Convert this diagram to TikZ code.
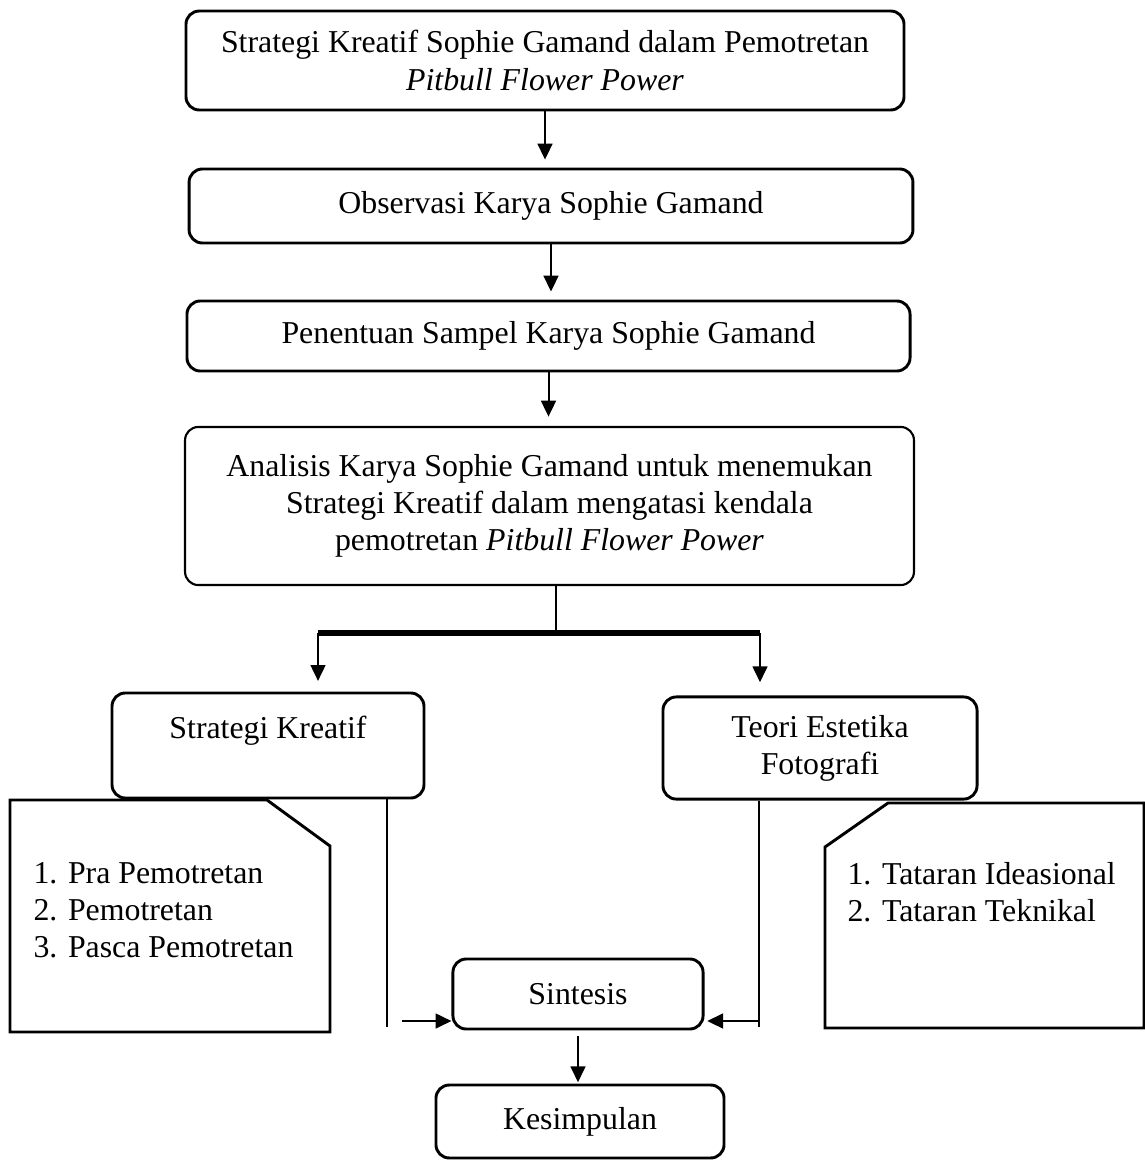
\documentclass[tikz,border=0pt]{standalone}
\usepackage{fontspec}
\setmainfont{Liberation Serif}
\usetikzlibrary{arrows.meta}

\begin{document}
\begin{tikzpicture}[x=0.377pt,y=-0.377pt,>={Triangle[length=6pt,width=5.6pt]},
  every node/.style={font=\fontsize{12}{14}\selectfont},
  kotak/.style={draw,rounded corners=5pt,line width=1.1pt,align=center,inner sep=2pt},
  panah/.style={->,line width=0.75pt,shorten >=3pt},
  garis/.style={line width=0.9pt},
  catatan/.style={draw,line width=1.1pt,line join=miter}]
  \useasboundingbox (0,0) rectangle (1145,1168);

  % alur utama
  \node[kotak,minimum width=270.7pt,minimum height=37.3pt] (judul)      at (545,60.5)  {Strategi Kreatif Sophie Gamand dalam Pemotretan\\\textit{Pitbull Flower Power}};
  \node[kotak,minimum width=272.9pt,minimum height=27.9pt] (observasi)  at (551,206)   {Observasi Karya Sophie Gamand};
  \node[kotak,minimum width=272.6pt,minimum height=26.4pt] (sampel)     at (548.5,336) {Penentuan Sampel Karya Sophie Gamand};
  \node[kotak,minimum width=274.8pt,minimum height=59.6pt,line width=0.8pt] (analisis) at (549.5,506) {Analisis Karya Sophie Gamand untuk menemukan\\Strategi Kreatif dalam mengatasi kendala\\pemotretan \textit{Pitbull Flower Power}};
  \node[kotak,minimum width=117.6pt,minimum height=39.6pt] (strategi)   at (268,745.5) {Strategi Kreatif\\\mbox{}};
  \node[kotak,minimum width=118.4pt,minimum height=38.5pt] (teori)      at (820,748)   {Teori Estetika\\Fotografi};
  \node[kotak,minimum width=94.3pt,minimum height=26.4pt]  (sintesis)   at (578,994)   {Sintesis};
  \node[kotak,minimum width=108.6pt,minimum height=27.5pt] (kesimpulan) at (580,1121.5) {Kesimpulan};

  % catatan
  \draw[catatan] (10,800) -- (267,800) -- (330,846) -- (330,1032) -- (10,1032) -- cycle;
  \node[anchor=west,align=left,inner sep=0pt] (tahapan) at (33,910) {1. Pra Pemotretan\\2. Pemotretan\\3. Pasca Pemotretan};
  \draw[catatan] (888,803) -- (1144,803) -- (1144,1028) -- (825,1028) -- (825,847) -- cycle;
  \node[anchor=west,align=left,inner sep=0pt] (tataran) at (847,892) {1. Tataran Ideasional\\2. Tataran Teknikal};

  \draw[panah] (judul.south) -- (judul.south |- observasi.north);
  \draw[panah] (observasi.south) -- (observasi.south |- sampel.north);
  \draw[panah,shorten >=3.5pt] (sampel.south) -- (sampel.south |- analisis.north);

  % cabang
  \coordinate (cabang)      at (556,633);
  \coordinate (cabangkiri)  at (318,633);
  \coordinate (cabangkanan) at (760,633);
  \draw[line width=1.1pt] (analisis.south -| cabang) -- (cabang);
  \draw[line width=1.9pt] (cabangkiri) -- (cabangkanan);
  \draw[panah,shorten >=4pt] (cabangkiri) -- (cabangkiri |- strategi.north);
  \draw[panah,shorten >=5pt] (cabangkanan) -- (cabangkanan |- teori.north);

  % menuju sintesis
  \coordinate (kiribawah)  at (387,1027);
  \coordinate (masukkiri)  at (402,1021);
  \coordinate (kananbawah) at (759,1027);
  \coordinate (masukkanan) at (759,1021);
  \draw[garis] (strategi.south -| kiribawah) -- (kiribawah);
  \draw[panah,shorten >=0pt] (masukkiri) -- (sintesis.west |- masukkiri);
  \draw[garis] (teori.south -| kananbawah) -- (kananbawah);
  \draw[panah,shorten >=1pt] (masukkanan) -- (sintesis.east |- masukkanan);
  \draw[panah,shorten <=2pt,shorten >=0.5pt] (sintesis.south) -- (sintesis.south |- kesimpulan.north);
\end{tikzpicture}
\end{document}
